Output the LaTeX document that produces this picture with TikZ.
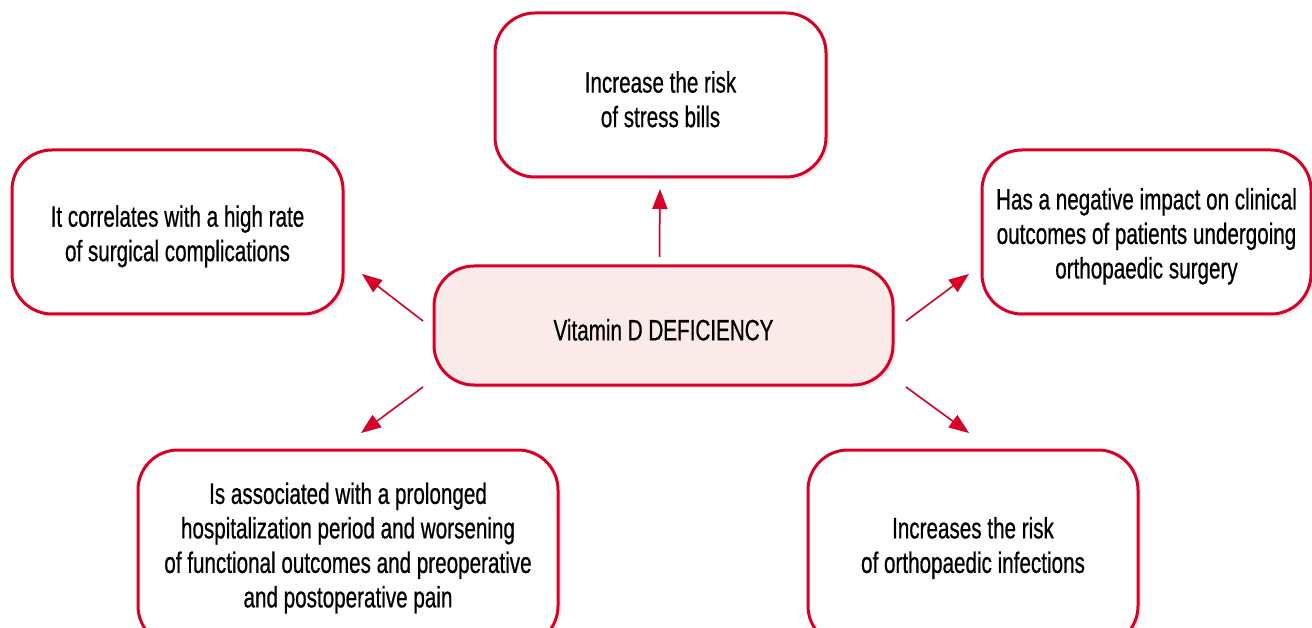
\documentclass[tikz,border=0pt]{standalone}
\usepackage{fontspec}
\setmainfont{Liberation Sans}[FakeStretch=0.7,FakeBold=0.6]
\usetikzlibrary{arrows.meta,shadows}
\definecolor{vred}{RGB}{215,0,40}
\definecolor{vpink}{RGB}{251,235,232}
\newcommand{\topstrut}{\rule{0pt}{30pt}}
\begin{document}
\begin{tikzpicture}[x=1pt,y=-1pt,
  box/.style={draw=vred, line width=3pt, rounded corners=40pt, fill=white,
    align=center, inner sep=0pt,
    font=\fontsize{29.5}{34.5}\selectfont,
    drop shadow={opacity=0.18, shadow xshift=3pt, shadow yshift=-3pt}},
  arr/.style={draw=vred, line width=1.5pt, -{Triangle[length=20pt,width=15pt]}},
  arrshadow/.style={draw=black!30, opacity=0.5, line width=2pt, -{Triangle[length=20pt,width=15pt]}}]
\clip (0,0) rectangle (1312,628);
\fill[white] (0,0) rectangle (1312,628);
% boxes
\node[box, minimum width=331pt, minimum height=164pt] (top) at (660.5,95) {\topstrut Increase the risk\\of stress bills};
\node[box, minimum width=331pt, minimum height=164pt] (left) at (177.5,232) {\topstrut It correlates with a high rate\\of surgical complications};
\node[box, minimum width=329pt, minimum height=164pt] (right) at (1146.5,232) {\topstrut Has a negative impact on clinical\\outcomes of patients undergoing\\orthopaedic surgery};
\node[box, fill=vpink, minimum width=459pt, minimum height=119pt] (center) at (663.5,325.5) {\topstrut Vitamin D DEFICIENCY};
\node[box, minimum width=420pt, minimum height=196pt] (bl) at (348,548) {Is associated with a prolonged\\hospitalization period and worsening\\of functional outcomes and preoperative\\and postoperative pain};
\node[box, minimum width=330pt, minimum height=196pt] (br) at (973,548) {Increases the risk\\of orthopaedic infections};
% arrow ends
\coordinate (tU) at (659.5,257);  \coordinate (hU) at (660,189);
\coordinate (tUL) at (423,321);   \coordinate (hUL) at (362,274);
\coordinate (tLL) at (423,387);   \coordinate (hLL) at (361,433);
\coordinate (tUR) at (906,321);   \coordinate (hUR) at (969,274);
\coordinate (tLR) at (906,387);   \coordinate (hLR) at (969,433);
% shadows of arrows
\begin{scope}[shift={(3,3)}]
\foreach \a/\b in {tU/hU,tUL/hUL,tLL/hLL,tUR/hUR,tLR/hLR}
  \draw[arrshadow] (\a) -- (\b);
\end{scope}
\foreach \a/\b in {tU/hU,tUL/hUL,tLL/hLL,tUR/hUR,tLR/hLR}
  \draw[arr] (\a) -- (\b);
\end{tikzpicture}
\end{document}
